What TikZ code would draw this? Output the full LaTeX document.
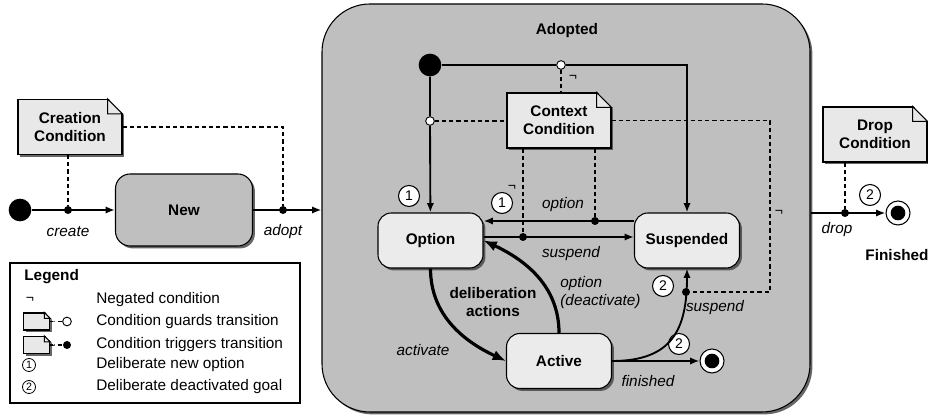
\documentclass[tikz,border=0pt]{standalone}
\usepackage{fontspec}
\setmainfont{Liberation Sans}
\usetikzlibrary{positioning,shadows,arrows.meta}

\definecolor{outergray}{gray}{0.75}
\definecolor{stategray}{gray}{0.92}
\definecolor{notegray}{gray}{0.91}

\begin{document}
\fontsize{11.5}{13.5}\selectfont
\begin{tikzpicture}[x=0.75pt, y=0.75pt,
>={Latex[length=7pt,width=5.5pt]},
castshadow/.style={drop shadow={shadow xshift=1.8pt, shadow yshift=-1.8pt, fill=black!75, opacity=0.8}},
superstate/.style={rectangle, rounded corners=36pt, draw=black, line width=0.8pt, fill=outergray, minimum width=366pt, minimum height=306pt, castshadow},
stbox/.style={rectangle, rounded corners=10pt, draw=black, line width=0.8pt, fill=stategray, minimum width=78.75pt, minimum height=41.25pt, font=\bfseries, castshadow},
note/.style={rectangle, draw=black, line width=0.8pt, fill=notegray, minimum width=78pt, minimum height=41.25pt, align=center, font=\bfseries, castshadow},
smallnote/.style={note, minimum width=20pt, minimum height=12.75pt},
start/.style={circle, fill=black, inner sep=0pt, minimum size=17pt},
finish/.style={circle, draw=black, line width=0.8pt, fill=white, inner sep=0pt, minimum size=18pt, path picture={\fill[black] (path picture bounding box.center) circle (5.5pt);}},
trigger/.style={circle, fill=black, inner sep=0pt, minimum size=6pt},
guard/.style={circle, draw=black, line width=0.7pt, fill=white, inner sep=0pt, minimum size=6.5pt},
num/.style={circle, draw=black, line width=0.8pt, fill=white, inner sep=0pt, minimum size=15.75pt, font=\fontsize{10.5}{10.5}\selectfont},
smallnum/.style={num, line width=0.6pt, minimum size=9.75pt, font=\fontsize{8}{8}\selectfont},
trans/.style={->, line width=1.4pt},
thicktrans/.style={-{Latex[length=10pt,width=8pt]}, line width=2.4pt},
cond/.style={line width=1.2pt, dash pattern=on 3.2pt off 2.2pt},
lbl/.style={font=\itshape},
neg/.style={font=\fontsize{10.5}{10.5}\selectfont, inner sep=0pt}
]
\useasboundingbox (0,0) rectangle (928,416);

% adopted super state
\node[superstate] (st_adopted) at (566,208) {};
\node[font=\bfseries] (adopted_txt) at (567,385) {Adopted};

% outside
\node[start] (init_out) at (20,206) {};
\node[stbox, fill=outergray, minimum width=102.75pt, minimum height=54pt, rounded corners=11pt] (st_new) at (184,206) {New};
\node[note] (cond_create) at (70,289) {Creation\\Condition};
\node[trigger] (trig_create) at (68,206) {};
\node[trigger] (trig_adopt) at (283,206) {};
\node[lbl] (lbl_create) at (68,184) {create};
\node[lbl] (lbl_adopt) at (283,184) {adopt};

% inside
\node[start] (init_in) at (430,351) {};
\node[guard] (guard_top) at (561,351) {};
\node[guard] (guard_ctx) at (430,295) {};
\node[note] (cond_context) at (559,295.5) {Context\\Condition};
\node[stbox] (st_option) at (430.5,175.5) {Option};
\node[stbox] (st_susp) at (687,175.5) {Suspended};
\node[stbox] (st_active) at (559,55) {Active};
\node[finish] (fin_in) at (712,55) {};
\node[trigger] (trig_option) at (595,195) {};
\node[trigger] (trig_suspend) at (523,179) {};
\node[trigger] (trig_suspact) at (686,124) {};
\coordinate (bend) at (770,124);

\node[num] (num_opt_a) at (409,220) {1};
\node[num] (num_opt_b) at (502,213) {1};
\node[num] (num_susp) at (663,130) {2};
\node[num] (num_fin) at (679,72) {2};
\node[neg] (neg_top) at (573,338) {¬};
\node[neg] (neg_opt) at (512,228) {¬};
\node[neg] (neg_susp) at (779,203) {¬};

\node[lbl] (lbl_option) at (563,211) {option};
\node[lbl] (lbl_suspend) at (571,162) {suspend};
\node[lbl] (lbl_activate) at (423,66) {activate};
\node[font=\bfseries, align=center] (lbl_delib) at (493,114) {deliberation\\actions};
\node[lbl, align=left, anchor=west] (lbl_deact) at (555,123) {option\\(deactivate)};
\node[lbl] (lbl_suspact) at (715,108) {suspend};
\node[lbl] (lbl_finished) at (648,35) {finished};

% right side
\node[finish] (fin_out) at (898,203) {};
\node[trigger] (trig_drop) at (845,203) {};
\node[note] (cond_drop) at (875,281.5) {Drop\\Condition};
\node[num] (num_drop) at (870,221) {2};
\node[lbl] (lbl_drop) at (837,186) {drop};
\node[font=\bfseries] (fin_txt) at (897,161) {Finished};

% legend
\node[draw, line width=0.8pt, minimum width=217.5pt, minimum height=105pt] (legend) at (155,83) {};
\node[font=\bfseries, anchor=west] (leg_title) at (19,139) {Legend};
\node[neg] (leg_neg) at (30,116) {¬};
\node[smallnote] (leg_guard) at (36.5,94.5) {};
\node[guard] (leg_gdot) at (67,94.5) {};
\node[smallnote] (leg_trig) at (36.5,71) {};
\node[trigger] (leg_tdot) at (67,71) {};
\node[smallnum] (leg_one) at (29,51) {1};
\node[smallnum] (leg_two) at (29,29) {2};
\node[anchor=west] (leg_t1) at (91,116) {Negated condition};
\node[anchor=west] (leg_t2) at (91,94.5) {Condition guards transition};
\node[anchor=west] (leg_t3) at (91,71) {Condition triggers transition};
\node[anchor=west] (leg_t4) at (91,51) {Deliberate new option};
\node[anchor=west] (leg_t5) at (91,29) {Deliberate deactivated goal};

% transitions
\draw[trans] (init_out) -- (st_new);
\draw[trans] (st_new) -- (st_new -| st_adopted.west);
\draw[cond] (trig_create |- cond_create.south) -- (trig_create);
\draw[cond] (cond_create) -| (trig_adopt);

\draw[trans] (init_in) -- (guard_ctx) -- (st_option);
\draw[trans] (init_in) -- (guard_top) -| (st_susp);
\draw[cond] (guard_top) -- (guard_top |- cond_context.north);
\draw[cond] (guard_ctx) -- (guard_ctx -| cond_context.west);
\draw[cond] (cond_context) -| (bend) -- (trig_suspact);
\draw[cond] (trig_option |- cond_context.south) -- (trig_option);
\draw[cond] (trig_suspend |- cond_context.south) -- (trig_suspend);

\draw[trans] (trig_option -| st_susp.west) -- (trig_option -| st_option.east);
\draw[trans] (trig_suspend -| st_option.east) -- (trig_suspend -| st_susp.west);
\draw[thicktrans] (st_option.south) to[out=-90, in=155] (st_active.west);
\draw[thicktrans] (st_active.north) to[out=90, in=-25] (st_option.east);
\draw[trans] (st_active.east) to[out=0, in=-90, looseness=1.3] (st_susp.south);
\draw[trans] (st_active) -- (fin_in);

\draw[trans] (fin_out -| st_adopted.east) -- (fin_out);
\draw[cond] (trig_drop |- cond_drop.south) -- (trig_drop);

\draw[cond] (leg_guard) -- (leg_gdot);
\draw[cond] (leg_trig) -- (leg_tdot);

% folded note corners
\foreach \n/\bg/\f in {cond_create/white/11.25pt, cond_context/outergray/11.25pt, cond_drop/white/11.25pt, leg_guard/white/4.5pt, leg_trig/white/4.5pt} {
  \fill[\bg] ([xshift=-\f, yshift=1pt]\n.north east) -- ([xshift=3pt, yshift=1pt]\n.north east) -- ([xshift=3pt, yshift=-\f-3pt]\n.north east) -- cycle;
  \draw[line width=0.8pt, fill=notegray] ([xshift=-\f]\n.north east) |- ([yshift=-\f]\n.north east) -- cycle;
}
\end{tikzpicture}
\end{document}
